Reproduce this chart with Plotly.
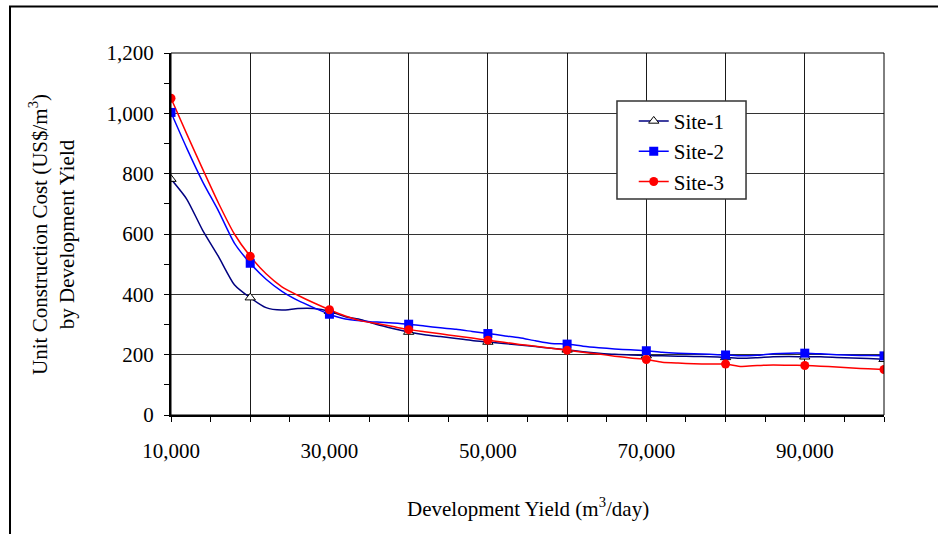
import plotly.graph_objects as go

# Development yield (m3/day)
yield_m3 = [10000, 12000, 14000, 16000, 18000, 20000, 22000, 24000, 26000, 28000,
            30000, 32000, 34000, 36000, 38000, 40000, 42000, 44000, 46000, 48000,
            50000, 52000, 54000, 56000, 58000, 60000, 62000, 64000, 66000, 68000,
            70000, 72000, 74000, 76000, 78000, 80000, 82000, 84000, 86000, 88000,
            90000, 92000, 94000, 96000, 98000, 100000]

site1 = [782, 715, 612, 525, 432, 389, 356, 348, 353, 353,
         344, 326, 316, 300, 287, 275, 266, 260, 254, 247,
         242, 237, 232, 227, 221, 216, 210, 205, 201, 199,
         197, 196, 195, 194, 193, 191, 188, 190, 193, 194,
         193, 193, 191, 189, 187, 185]

site2 = [1003, 884, 773, 676, 570, 503, 450, 410, 380, 356,
         334, 318, 312, 308, 305, 301, 295, 289, 284, 277,
         270, 263, 256, 246, 237, 235, 228, 223, 219, 216,
         213, 208, 205, 203, 201, 199, 196, 198, 203, 205,
         205, 203, 200, 198, 197, 196]

site3 = [1050, 931, 815, 702, 600, 526, 468, 425, 397, 372,
         349, 328, 312, 303, 293, 283, 276, 269, 262, 255,
         248, 241, 234, 228, 221, 215, 208, 202, 195, 189,
         184, 175, 172, 170, 169, 169, 161, 164, 166, 165,
         164, 162, 159, 156, 153, 151]

x_ticks = [10000, 20000, 30000, 40000, 50000, 60000, 70000, 80000, 90000, 100000]
x_ticktext = ["10,000", "", "30,000", "", "50,000", "", "70,000", "", "90,000", ""]
y_ticks = [0, 200, 400, 600, 800, 1000, 1200]
y_ticktext = ["0", "200", "400", "600", "800", "1,000", "1,200"]

FONT = "Liberation Serif, Times New Roman, serif"
FS = 21

series = [
    ("Site-1", site1, "#000080", dict(symbol="triangle-up", size=9, color="white",
                                       line=dict(color="black", width=1))),
    ("Site-2", site2, "#0000FF", dict(symbol="square", size=9, color="#0000FF",
                                       line=dict(width=0))),
    ("Site-3", site3, "#FF0000", dict(symbol="circle", size=9, color="#FF0000",
                                       line=dict(width=0))),
]

fig = go.Figure()
for name, vals, col, mk in series:
    fig.add_trace(go.Scatter(x=yield_m3, y=vals, mode="lines",
                             line=dict(color=col, width=1.5, shape="spline", smoothing=0.6),
                             showlegend=False, hoverinfo="skip"))
for name, vals, col, mk in series:
    mx = [x for x in yield_m3 if x in x_ticks]
    my = [v for x, v in zip(yield_m3, vals) if x in x_ticks]
    fig.add_trace(go.Scatter(x=mx, y=my, mode="markers", marker=mk,
                             name=name, showlegend=False))
for name, vals, col, mk in series:
    fig.add_trace(go.Scatter(x=[None], y=[None], mode="lines+markers", name=name,
                             line=dict(color=col, width=1.5), marker=mk))

fig.update_layout(
    width=938, height=534,
    margin=dict(l=171, r=54, t=53, b=119),
    paper_bgcolor="white", plot_bgcolor="white",
    font=dict(family=FONT, size=FS, color="black"),
    showlegend=True,
    legend=dict(x=0.649, y=0.868, xanchor="left", yanchor="top",
                bgcolor="rgba(0,0,0,0)", borderwidth=0,
                font=dict(family=FONT, size=FS), tracegroupgap=0, itemwidth=30),
    xaxis=dict(range=[10000, 100000], tickmode="array", tickvals=x_ticks,
               ticktext=x_ticktext, showgrid=True, gridcolor="#1a1a1a", gridwidth=1,
               showline=True, linecolor="black", linewidth=1.5,
               ticks="outside", ticklen=5, tickcolor="black", ticklabelstandoff=11,
               zeroline=False,
               minor=dict(tickmode="linear", tick0=10000, dtick=5000, ticks="outside",
                          ticklen=5, tickcolor="black", showgrid=False)),
    yaxis=dict(range=[0, 1200], tickmode="array", tickvals=y_ticks,
               ticktext=y_ticktext, showgrid=True, gridcolor="#333333", gridwidth=1,
               showline=True, linecolor="black", linewidth=2,
               ticks="outside", ticklen=5, tickcolor="black", ticklabelstandoff=6,
               zeroline=False,
               minor=dict(tickmode="linear", tick0=0, dtick=100, ticks="outside",
                          ticklen=5, tickcolor="black", showgrid=False)),
    shapes=[
        dict(type="rect", xref="paper", yref="paper", x0=0, x1=1, y0=0, y1=1,
             line=dict(color="black", width=1), layer="above"),
        # legend box
        dict(type="rect", xref="paper", yref="paper", x0=0.6255, x1=0.8065,
             y0=0.5967, y1=0.8674, line=dict(color="#333333", width=1.5),
             fillcolor="white", layer="above"),
        # outer frame
        dict(type="rect", xref="paper", yref="paper", x0=-0.2258, x1=1.2,
             y0=-0.5, y1=1.1285, line=dict(color="black", width=2)),
    ],
    annotations=[
        dict(text="Unit Construction Cost (US$/m<sup>3</sup>)<br>by Development Yield",
             xref="paper", yref="paper", x=-0.167, y=0.5, textangle=-90,
             showarrow=False, xanchor="center", yanchor="middle",
             font=dict(family=FONT, size=FS)),
        dict(text="Development Yield (m<sup>3</sup>/day)",
             xref="paper", yref="paper", x=0.5, y=-0.255, showarrow=False,
             xanchor="center", yanchor="middle", font=dict(family=FONT, size=FS)),
    ],
)

fig.write_html("out.html", config={"displayModeBar": False},
               post_script="document.body.style.margin='0';")
